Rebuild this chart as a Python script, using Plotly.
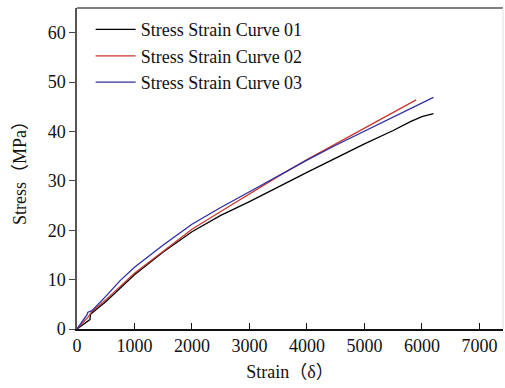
import plotly.graph_objects as go

strain_01 = [0, 120, 225, 235, 500, 1000, 1500, 2000, 2500, 3000, 3500, 4000, 4500, 5000, 5500, 5800, 6000, 6200]
stress_01 = [0, 1.0, 1.9, 3.0, 5.5, 11.0, 15.6, 19.7, 23.0, 25.8, 28.8, 31.7, 34.6, 37.5, 40.2, 42.0, 43.0, 43.6]

strain_02 = [0, 100, 200, 250, 500, 1000, 1500, 2000, 2500, 3000, 3500, 4000, 4500, 5000, 5500, 5900]
stress_02 = [0, 1.2, 2.5, 3.4, 5.9, 11.3, 15.8, 20.2, 23.8, 27.4, 30.9, 34.3, 37.5, 40.7, 43.8, 46.4]

strain_03 = [0, 100, 175, 190, 260, 500, 750, 1000, 1500, 2000, 2500, 3000, 3500, 4000, 4500, 5000, 5500, 6000, 6200]
stress_03 = [0, 1.6, 2.9, 3.4, 3.7, 6.6, 9.8, 12.5, 17.0, 21.2, 24.6, 27.8, 31.0, 34.2, 37.2, 40.1, 42.9, 45.8, 46.9]

names = ["Stress Strain Curve 01", "Stress Strain Curve 02", "Stress Strain Curve 03"]
colors = ["#000000", "#c8382f", "#2e2ea0"]

x_ticks = [0, 1000, 2000, 3000, 4000, 5000, 6000, 7000]
y_ticks = [0, 10, 20, 30, 40, 50, 60]

FONT = "Liberation Serif, Times New Roman, Noto Sans CJK SC, serif"

fig = go.Figure()
for xs, ys, n, c in zip([strain_01, strain_02, strain_03],
                        [stress_01, stress_02, stress_03], names, colors):
    fig.add_trace(go.Scatter(x=xs, y=ys, mode="lines", name=n,
                             line=dict(color=c, width=1.3)))

fig.update_layout(
    width=505, height=388,
    margin=dict(l=77, r=2, t=8, b=59),
    paper_bgcolor="white", plot_bgcolor="white",
    font=dict(family=FONT, size=18, color="#111111"),
    showlegend=True,
    legend=dict(x=0.032, y=0.99, xanchor="left", yanchor="top",
                bgcolor="rgba(0,0,0,0)", font=dict(size=18, family=FONT),
                tracegroupgap=0, itemwidth=40),
    xaxis=dict(range=[0, 7410], tickvals=x_ticks, ticks="inside", ticklen=6,
               tickcolor="#111", showline=True, linecolor="#111", linewidth=1.5,
               showgrid=False, zeroline=False, mirror=False,
               title=dict(text="Strain（δ）", font=dict(size=18, family=FONT), standoff=10),
               tickfont=dict(size=18, family=FONT)),
    yaxis=dict(range=[0, 65], tickvals=y_ticks, ticks="outside", ticklen=6,
               tickcolor="#444", showline=True, linecolor="#555", linewidth=1.5,
               showgrid=False, zeroline=False, mirror=False,
               title=dict(text="Stress（MPa）", font=dict(size=18, family=FONT), standoff=16),
               tickfont=dict(size=18, family=FONT)),
)
fig.add_shape(type="line", xref="paper", yref="paper", x0=0, x1=1, y0=1, y1=1,
              line=dict(color="#808080", width=2))
fig.add_shape(type="line", xref="paper", yref="paper", x0=1, x1=1, y0=0, y1=1,
              line=dict(color="#e0e0e0", width=1))

fig.write_html("out.html")
